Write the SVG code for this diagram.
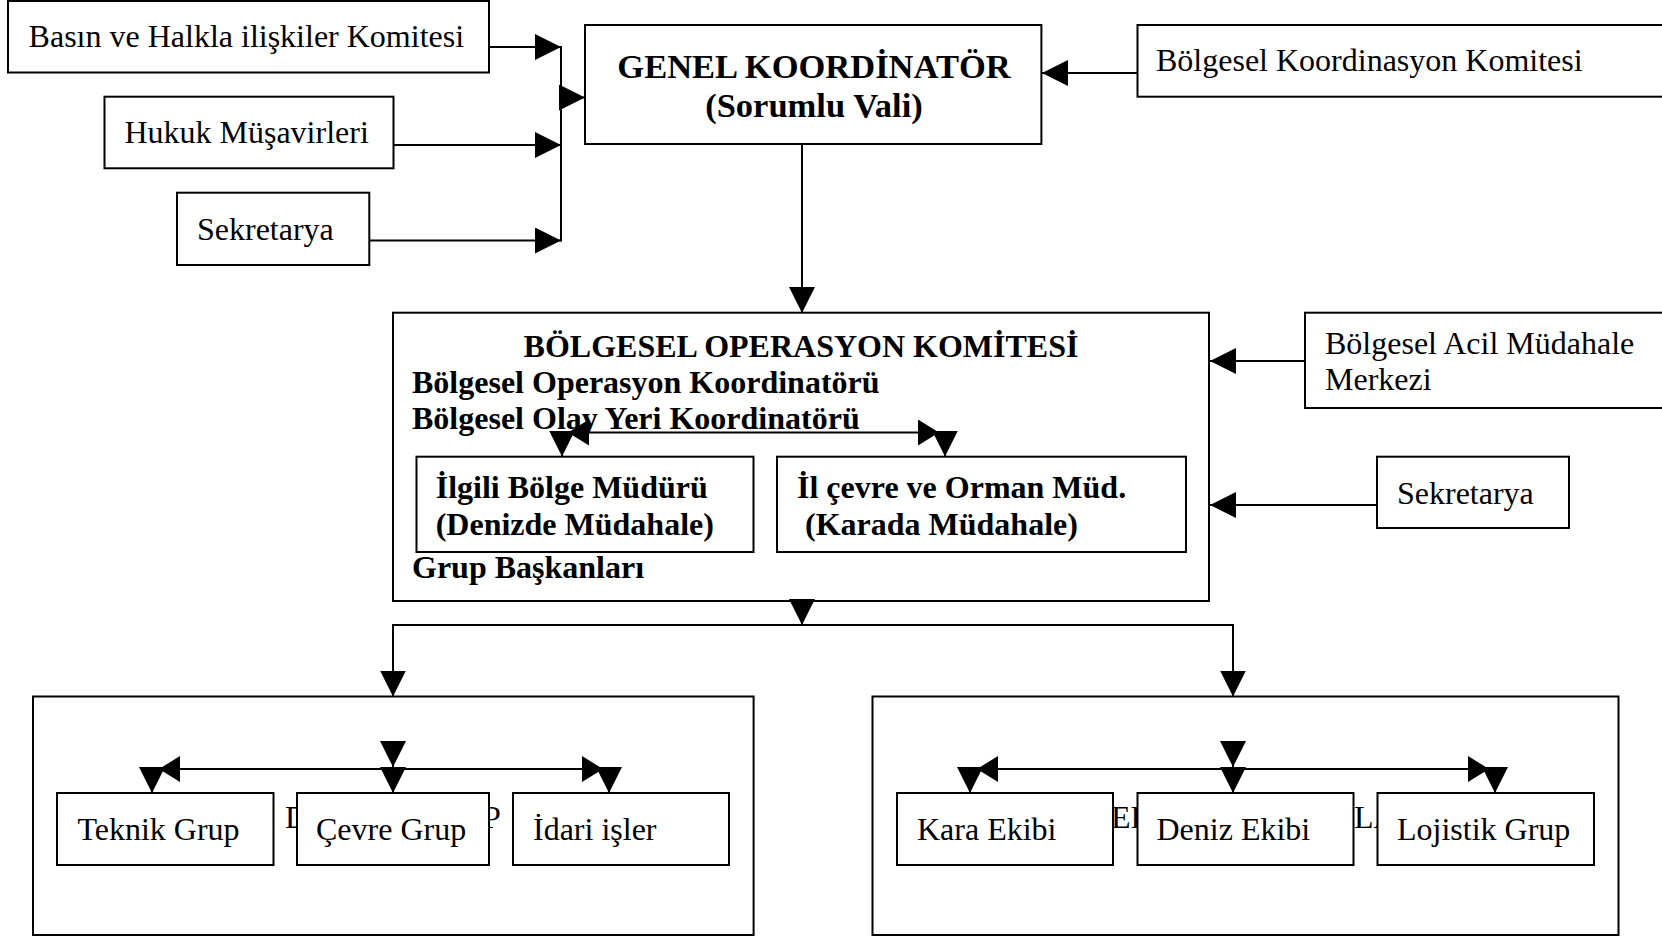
<svg xmlns="http://www.w3.org/2000/svg" width="1662" height="937" viewBox="0 0 1662 937">
<defs>
<marker id="arr" viewBox="0 0 26 26" markerWidth="26" markerHeight="26" refX="26" refY="13" orient="auto-start-reverse" markerUnits="userSpaceOnUse">
<path d="M0,0 L26,13 L0,26 Z" fill="#000"/>
</marker>
<marker id="arr2" viewBox="0 0 21 26" markerWidth="21" markerHeight="26" refX="21" refY="13" orient="auto-start-reverse" markerUnits="userSpaceOnUse">
<path d="M0,0 L21,13 L0,26 Z" fill="#000"/>
</marker>
<style>
.box{fill:#fff;stroke:#000;stroke-width:2}
.ln{fill:none;stroke:#000;stroke-width:2}
.ar{fill:none;stroke:#000;stroke-width:2;marker-end:url(#arr)}
.da{fill:none;stroke:#000;stroke-width:2;marker-start:url(#arr2);marker-end:url(#arr2)}
.t{font-family:"Liberation Serif","Times New Roman",serif;font-size:32px;fill:#000}
.b{font-weight:bold}
</style>
</defs>
<rect width="1662" height="937" fill="#fff"/>

<g id="fragments">
<text class="t" x="285" y="828">D</text>
<text class="t" x="483" y="828">P</text>
<text class="t" x="1111" y="828">ER</text>
<text class="t" x="1354" y="828">LA</text>
</g>

<g id="basin">
<rect class="box" x="8" y="1" width="481" height="71.5"/>
<text class="t" x="28.6" y="46.7">Basın ve Halkla ilişkiler Komitesi</text>
</g>
<g id="hukuk">
<rect class="box" x="104.5" y="96.7" width="289" height="71.6"/>
<text class="t" x="124.4" y="143.3">Hukuk Müşavirleri</text>
</g>
<g id="sekretarya1">
<rect class="box" x="177" y="192.7" width="192.3" height="72.3"/>
<text class="t" x="197" y="240">Sekretarya</text>
</g>
<g id="genel">
<rect class="box" x="585" y="25" width="456.4" height="119"/>
<text class="t b" x="814" y="78.3" text-anchor="middle" style="font-size:34.5px">GENEL KOORDİNATÖR</text>
<text class="t b" x="814" y="116.7" text-anchor="middle" style="font-size:34.5px">(Sorumlu Vali)</text>
</g>
<g id="koordinasyon">
<rect class="box" x="1137.5" y="25" width="540" height="71.7"/>
<text class="t" x="1156" y="70.7">Bölgesel Koordinasyon Komitesi</text>
</g>
<g id="operasyon">
<rect class="box" x="393" y="312.7" width="816" height="288.3"/>
<text class="t b" x="801" y="356.7" text-anchor="middle">BÖLGESEL OPERASYON KOMİTESİ</text>
<text class="t b" x="412" y="393">Bölgesel Operasyon Koordinatörü</text>
<text class="t b" x="412" y="429">Bölgesel Olay Yeri Koordinatörü</text>
<text class="t b" x="412" y="578">Grup Başkanları</text>
</g>
<g id="ilgili">
<rect class="box" x="416.5" y="456.7" width="337" height="95.3"/>
<text class="t b" x="435.7" y="497.5">İlgili Bölge Müdürü</text>
<text class="t b" x="435.7" y="534.5">(Denizde Müdahale)</text>
</g>
<g id="ilcevre">
<rect class="box" x="777" y="456.7" width="409" height="95.3"/>
<text class="t b" x="797" y="497.5">İl çevre ve Orman Müd.</text>
<text class="t b" x="805" y="534.5">(Karada Müdahale)</text>
</g>
<g id="acil">
<rect class="box" x="1305" y="312.7" width="370" height="95.3"/>
<text class="t" x="1325" y="354">Bölgesel Acil Müdahale</text>
<text class="t" x="1325" y="390">Merkezi</text>
</g>
<g id="sekretarya2">
<rect class="box" x="1377" y="456.7" width="192" height="71.3"/>
<text class="t" x="1397" y="504">Sekretarya</text>
</g>
<g id="destek">
<rect class="box" x="33" y="696.5" width="720.6" height="238.5" style="fill:none"/>
</g>
<g id="opgruplari">
<rect class="box" x="872.5" y="696.5" width="746" height="238.5" style="fill:none"/>
</g>
<g id="teknik">
<rect class="box" x="57" y="793" width="216.5" height="72"/>
<text class="t" x="77.4" y="840">Teknik Grup</text>
</g>
<g id="cevre">
<rect class="box" x="297" y="793" width="192" height="72"/>
<text class="t" x="316" y="840">Çevre Grup</text>
</g>
<g id="idari">
<rect class="box" x="513" y="793" width="216" height="72"/>
<text class="t" x="533" y="840">İdari işler</text>
</g>
<g id="kara">
<rect class="box" x="897" y="793" width="216" height="72"/>
<text class="t" x="917" y="840">Kara Ekibi</text>
</g>
<g id="deniz">
<rect class="box" x="1137.5" y="793" width="216" height="72"/>
<text class="t" x="1156.5" y="840">Deniz Ekibi</text>
</g>
<g id="lojistik">
<rect class="box" x="1377.5" y="793" width="216.5" height="72"/>
<text class="t" x="1397" y="840">Lojistik Grup</text>
</g>

<g id="connectors">
<line class="ar" x1="489" y1="47" x2="561" y2="47"/>
<line class="ar" x1="393" y1="145" x2="561" y2="145"/>
<line class="ar" x1="369" y1="240.5" x2="561" y2="240.5"/>
<line class="ln" x1="561" y1="46" x2="561" y2="241.5"/>
<line class="ar" x1="561" y1="97.5" x2="585" y2="97.5"/>
<line class="ar" x1="1137" y1="73" x2="1042" y2="73"/>
<line class="ar" x1="802" y1="144" x2="802" y2="313"/>
<line class="ar" x1="1305" y1="361" x2="1210" y2="361"/>
<line class="ar" x1="1377" y1="505" x2="1210" y2="505"/>
<line class="da" x1="568" y1="432.5" x2="939" y2="432.5"/>
<line class="ar" x1="562" y1="432" x2="562" y2="456.5"/>
<line class="ar" x1="945" y1="432" x2="945" y2="456.5"/>
<line class="ar" x1="802" y1="601" x2="802" y2="625"/>
<line class="ln" x1="393" y1="625" x2="1233" y2="625"/>
<line class="ar" x1="393" y1="624" x2="393" y2="696.5"/>
<line class="ar" x1="1233" y1="624" x2="1233" y2="696.5"/>
<line class="da" x1="159" y1="769" x2="603" y2="769"/>
<line class="ar" x1="152" y1="769" x2="152" y2="793"/>
<line class="ar" x1="393" y1="769" x2="393" y2="793"/>
<line class="ar" x1="609" y1="769" x2="609" y2="793"/>
<line class="ar" x1="393" y1="742" x2="393" y2="767"/>
<line class="da" x1="977" y1="769" x2="1489" y2="769"/>
<line class="ar" x1="970" y1="769" x2="970" y2="793"/>
<line class="ar" x1="1233" y1="769" x2="1233" y2="793"/>
<line class="ar" x1="1495" y1="769" x2="1495" y2="793"/>
<line class="ar" x1="1233" y1="742" x2="1233" y2="767"/>
</g>
</svg>
